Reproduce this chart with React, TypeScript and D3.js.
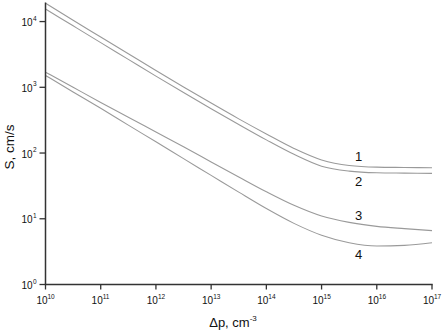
import React from "react";
import * as d3 from "d3";

const logDp = [10, 10.5, 11, 11.5, 12, 12.5, 13, 13.5, 14, 14.5, 15, 15.5, 16, 16.5, 17];
const curve1 = [19055, 10471, 5821, 3236, 1799, 1012, 575, 331, 195, 117.5, 78.5, 64.6, 61, 60.3, 59.6];
const curve2 = [15488, 8610, 4786, 2661, 1479, 832, 473, 272, 158.5, 95.5, 63.1, 53.1, 50.1, 49.5, 49];
const curve3 = [1700, 1000, 589, 351, 209, 124.5, 73.3, 43.2, 25.7, 16.0, 11.0, 8.81, 7.67, 7.08, 6.61];
const curve4 = [1514, 851, 479, 266, 148, 82.2, 45.7, 25.4, 14.3, 8.51, 5.62, 4.32, 3.85, 3.94, 4.31];
const curveLabels = ["1", "2", "3", "4"];
const labelPos = [[15.67, 75], [15.67, 31], [15.67, 9.5], [15.67, 2.45]];
const xTickExp = [10, 11, 12, 13, 14, 15, 16, 17];
const yTickExp = [0, 1, 2, 3, 4];

export default function App() {
  const W = 442, H = 333;
  const x = d3.scaleLog().domain([1e10, 1e17]).range([45.5, 432]);
  const y = d3.scaleLog().domain([1, Math.pow(10, 4.29)]).range([284.5, 2.5]);
  const series = [curve1, curve2, curve3, curve4];
  const line = d3
    .line<[number, number]>()
    .x((d) => x(Math.pow(10, d[0])))
    .y((d) => y(d[1]))
    .curve(d3.curveMonotoneX);
  const font = "Liberation Sans, Arial, sans-serif";
  const axisColor = "#333";
  return (
    <svg width={W} height={H} style={{ position: "absolute", left: 0, top: 0 }} fontFamily={font}>
      <rect width={W} height={H} fill="#fff" />
      {series.map((s, i) => (
        <path
          key={i}
          d={line(logDp.map((lx, j) => [lx, s[j]] as [number, number])) || ""}
          fill="none"
          stroke="#9a9a9a"
          strokeWidth={1.1}
        />
      ))}
      {/* axes */}
      <line x1={x(1e10)} x2={x(1e10)} y1={y.range()[1]} y2={y(1)} stroke={axisColor} strokeWidth={1.5} />
      <line x1={x(1e10) - 0.7} x2={x(1e17) + 0.7} y1={y(1)} y2={y(1)} stroke={axisColor} strokeWidth={1.5} />
      {xTickExp.map((e) => {
        const px = x(Math.pow(10, e));
        return (
          <g key={"x" + e}>
            <line x1={px} x2={px} y1={y(1)} y2={y(1) + 5} stroke={axisColor} strokeWidth={1.3} />
            <text x={px + 2} y={304} fontSize={10} textAnchor="end" fill="#111">10</text>
            <text x={px + 2} y={298.5} fontSize={6.5} textAnchor="start" fill="#111">{e}</text>
          </g>
        );
      })}
      {yTickExp.map((e) => {
        const py = y(Math.pow(10, e));
        return (
          <g key={"y" + e}>
            <line x1={x(1e10) - 6} x2={x(1e10)} y1={py} y2={py} stroke={axisColor} strokeWidth={1.3} />
            <text x={32.5} y={py + 4.5} fontSize={10} textAnchor="end" fill="#111">10</text>
            <text x={33} y={py - 1} fontSize={6.5} textAnchor="start" fill="#111">{e}</text>
          </g>
        );
      })}
      {curveLabels.map((t, i) => (
        <text key={t} x={x(Math.pow(10, labelPos[i][0]))} y={y(labelPos[i][1])} fontSize={13} textAnchor="middle" fill="#111">
          {t}
        </text>
      ))}
      <text x={233} y={327} fontSize={13} textAnchor="middle" fill="#111">
        Δp, cm<tspan dy={-6} fontSize={8}>-3</tspan>
      </text>
      <text transform={`translate(13.5,147) rotate(-90)`} fontSize={13.5} textAnchor="middle" fill="#111">
        S, cm/s
      </text>
    </svg>
  );
}
